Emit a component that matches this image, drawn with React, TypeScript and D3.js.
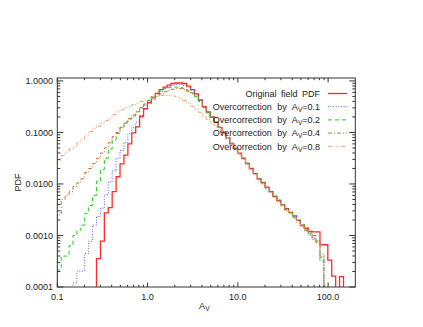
import React from "react";
import * as d3 from "d3";

// Histogram bins: natural-log bins of width 0.1 starting at A_V = 0.1
const BIN_START = 0.1;
const BIN_DLN = 0.1;

// log10(PDF) per bin (null = empty bin)
const LOG_PDF_ORIGINAL: (number | null)[] = [
  null, null, null, null, null, null, null, null, null, null,
  -3.45, -3.11, -2.56, -2.46, -2.15, -1.86, -1.61, -1.44, -1.22, -1.01,
  -0.89, -0.69, -0.54, -0.42, -0.32, -0.24, -0.17, -0.12, -0.08, -0.05,
  -0.04, -0.04, -0.05, -0.1, -0.17, -0.25, -0.37, -0.5, -0.6, -0.7,
  -0.8, -0.9, -1.0, -1.1, -1.22, -1.31, -1.4, -1.5, -1.6, -1.7,
  -1.8, -1.9, -1.97, -2.06, -2.15, -2.24, -2.32, -2.4, -2.48, -2.55,
  -2.62, -2.7, -2.8, -2.86, -2.92, -2.93, -2.93, -3.18, -3.18, -3.48,
  -3.79, null, -3.8, null, null, null,
];
const LOG_PDF_OC01: (number | null)[] = [
  null, null, null, null, -3.92, -3.69, -3.69, -3.35, -3.11, -2.8,
  -2.63, -2.47, -2.21, -1.96, -1.75, -1.5, -1.35, -1.2, -1.02, -0.9,
  -0.8, -0.67, -0.55, -0.44, -0.35, -0.26, -0.2, -0.14, -0.1, -0.08,
  -0.07, -0.07, -0.09, -0.12, -0.18, -0.27, -0.38, -0.5, -0.61, -0.71,
  -0.8, -0.91, -1.0, -1.12, -1.2, -1.32, -1.41, -1.5, -1.62, -1.7,
  -1.8, -1.9, -1.99, -2.07, -2.14, -2.25, -2.31, -2.42, -2.47, -2.57,
  -2.63, -2.7, -2.82, -2.88, -2.97, -3.05, -3.1, -3.42, null, null,
  null, null, null, null, null, null,
];
const LOG_PDF_OC02: (number | null)[] = [
  -3.67, -3.4, -3.4, -3.2, -3.0, -2.9, -2.8, -2.57, -2.42, -2.22,
  -1.95, -1.72, -1.5, -1.32, -1.15, -1.02, -0.9, -0.8, -0.74, -0.68,
  -0.6, -0.52, -0.45, -0.38, -0.3, -0.24, -0.19, -0.15, -0.13, -0.12,
  -0.12, -0.13, -0.15, -0.18, -0.23, -0.3, -0.4, -0.52, -0.62, -0.72,
  -0.81, -0.9, -1.01, -1.1, -1.21, -1.3, -1.42, -1.51, -1.6, -1.72,
  -1.8, -1.91, -1.98, -2.08, -2.15, -2.23, -2.33, -2.4, -2.5, -2.55,
  -2.64, -2.72, -2.78, -2.9, -2.95, -3.0, -3.15, -3.5, null, null,
  null, null, null, null, null, null,
];
const LOG_PDF_OC04: (number | null)[] = [
  -2.6, -2.3, -2.22, -2.15, -2.05, -1.98, -1.9, -1.78, -1.7, -1.6,
  -1.5, -1.4, -1.3, -1.2, -1.08, -1.0, -0.9, -0.82, -0.73, -0.66,
  -0.6, -0.53, -0.47, -0.41, -0.35, -0.3, -0.25, -0.21, -0.18, -0.16,
  -0.15, -0.15, -0.17, -0.2, -0.25, -0.31, -0.4, -0.5, -0.6, -0.7,
  -0.8, -0.9, -1.01, -1.12, -1.22, -1.32, -1.42, -1.52, -1.61, -1.71,
  -1.81, -1.9, -1.99, -2.08, -2.16, -2.24, -2.34, -2.41, -2.5, -2.56,
  -2.65, -2.72, -2.81, -2.9, -2.97, -3.05, -3.12, -3.4, null, null,
  null, null, null, null, null, null,
];
const LOG_PDF_OC08: (number | null)[] = [
  -1.55, -1.45, -1.38, -1.32, -1.28, -1.2, -1.13, -1.05, -0.98, -0.92,
  -0.88, -0.83, -0.77, -0.72, -0.65, -0.6, -0.56, -0.52, -0.49, -0.46,
  -0.43, -0.4, -0.38, -0.36, -0.33, -0.3, -0.28, -0.28, -0.28, -0.29,
  -0.31, -0.34, -0.38, -0.43, -0.49, -0.55, -0.61, -0.68, -0.75, -0.82,
  -0.88, -0.95, -1.02, -1.1, -1.2, -1.3, -1.42, -1.52, -1.63, -1.72,
  -1.82, -1.92, -2.0, -2.1, -2.17, -2.26, -2.35, -2.43, -2.52, -2.58,
  -2.66, -2.75, -2.83, -2.92, -3.0, -3.08, -3.15, -3.35, null, null,
  null, null, null, null, null, null,
];

const SERIES_LABELS = ["Original field PDF", "0.1", "0.2", "0.4", "0.8"];
const X_TICKS = [0.1, 1, 10, 100];
const X_TICK_LABELS = ["0.1", "1.0", "10.0", "100.0"];
const Y_TICKS = [1e-4, 1e-3, 1e-2, 1e-1, 1];
const Y_TICK_LABELS = ["0.0001", "0.0010", "0.0100", "0.1000", "1.0000"];

const W = 423;
const H = 327;
const L = 57.3;
const R = 355.3;
const T = 78;
const B = 287;

const FONT = "'Liberation Sans', Arial, sans-serif";
const TEXT = "#222";
const AXIS = "#333";

const styles = [
  { color: "#ff2a2a", dash: "none", width: 1.3 },
  { color: "#5a5aee", dash: "1,1.6", width: 1 },
  { color: "#22cc22", dash: "4,3", width: 1 },
  { color: "#c87030", dash: "4,2,1,2", width: 1 },
  { color: "#eea070", dash: "4,1.6,1,1.6,1,1.6,1,1.6", width: 1 },
];

export default function App() {
  const x = d3.scaleLog().domain([0.1, 200]).range([L, R]);
  const y = d3.scaleLog().domain([1e-4, 1.14]).range([B, T]);
  const series = [LOG_PDF_ORIGINAL, LOG_PDF_OC01, LOG_PDF_OC02, LOG_PDF_OC04, LOG_PDF_OC08];

  const edge = (k: number) => BIN_START * Math.exp(BIN_DLN * k);
  const OFF = B + 40;

  const makePath = (vals: (number | null)[]) => {
    const p = d3.path();
    p.moveTo(x(edge(0)), OFF);
    vals.forEach((v, k) => {
      const yy = v === null ? OFF : y(Math.pow(10, v));
      p.lineTo(x(edge(k)), yy);
      p.lineTo(x(edge(k + 1)), yy);
    });
    p.lineTo(x(edge(vals.length)), OFF);
    return p.toString();
  };

  // ticks
  const xMinor: number[] = [];
  for (let e = -1; e <= 2; e++) {
    for (let m = 2; m <= 9; m++) {
      const v = m * Math.pow(10, e);
      if (v < 200) xMinor.push(v);
    }
  }
  const yMinor: number[] = [];
  for (let e = -4; e <= 0; e++) {
    for (let m = 2; m <= 9; m++) {
      const v = m * Math.pow(10, e);
      if (v < 1.14) yMinor.push(v);
    }
  }

  const legendY0 = 93.5;
  const legendDy = 13.2;

  return (
    <svg
      width={W}
      height={H}
      style={{ position: "absolute", left: 0, top: 0, background: "#fff" }}
      fontFamily={FONT}
    >
      <defs>
        <clipPath id="plotclip">
          <rect x={L} y={T} width={R - L} height={B - T} />
        </clipPath>
      </defs>

      <g clipPath="url(#plotclip)">
        {series.map((s, i) => (
          <path
            key={i}
            d={makePath(s)}
            fill="none"
            stroke={styles[i].color}
            strokeWidth={styles[i].width}
            strokeDasharray={styles[i].dash}
          />
        ))}
      </g>

      {/* frame */}
      <rect x={L} y={T} width={R - L} height={B - T} fill="none" stroke={AXIS} strokeWidth={1} />

      {/* x ticks */}
      {X_TICKS.map((t) => (
        <g key={"xt" + t}>
          <line x1={x(t)} x2={x(t)} y1={B} y2={B - 4.5} stroke={AXIS} />
          <line x1={x(t)} x2={x(t)} y1={T} y2={T + 4.5} stroke={AXIS} />
        </g>
      ))}
      {xMinor.map((t) => (
        <g key={"xm" + t}>
          <line x1={x(t)} x2={x(t)} y1={B} y2={B - 2.2} stroke={AXIS} />
          <line x1={x(t)} x2={x(t)} y1={T} y2={T + 2.2} stroke={AXIS} />
        </g>
      ))}
      {X_TICKS.map((t, i) => (
        <text key={"xl" + t} x={x(t)} y={300} fontSize={9} fill={TEXT} textAnchor="middle">
          {X_TICK_LABELS[i]}
        </text>
      ))}

      {/* y ticks */}
      {Y_TICKS.map((t) => (
        <g key={"yt" + t}>
          <line x1={L} x2={L + 6} y1={y(t)} y2={y(t)} stroke={AXIS} />
          <line x1={R} x2={R - 6} y1={y(t)} y2={y(t)} stroke={AXIS} />
        </g>
      ))}
      {yMinor.map((t) => (
        <g key={"ym" + t}>
          <line x1={L} x2={L + 3} y1={y(t)} y2={y(t)} stroke={AXIS} />
          <line x1={R} x2={R - 3} y1={y(t)} y2={y(t)} stroke={AXIS} />
        </g>
      ))}
      {Y_TICKS.map((t, i) => (
        <text key={"yl" + t} x={53} y={y(t) + 3.2} fontSize={9} fill={TEXT} textAnchor="end">
          {Y_TICK_LABELS[i]}
        </text>
      ))}

      {/* axis titles */}
      <text x={(L + R) / 2 - 2} y={309} fontSize={9} fill={TEXT} textAnchor="middle">
        A<tspan fontSize={6.5} dy={2}>V</tspan>
      </text>
      <text
        transform={`translate(21, ${(T + B) / 2}) rotate(-90)`}
        fontSize={9}
        fill={TEXT}
        textAnchor="middle"
      >
        PDF
      </text>

      {/* legend */}
      {SERIES_LABELS.map((lab, i) => {
        const cy = legendY0 + i * legendDy;
        return (
          <g key={"lg" + i}>
            {i === 0 ? (
              <text x={320} y={cy + 3.2} fontSize={9} fill={TEXT} textAnchor="end" style={{ wordSpacing: "2px" }}>
                {lab}
              </text>
            ) : (
              <text x={320} y={cy + 3.2} fontSize={9} fill={TEXT} textAnchor="end" style={{ wordSpacing: "3px" }}>
                Overcorrection by A<tspan fontSize={6.5} dy={2}>V</tspan>
                <tspan dy={-2}>={lab}</tspan>
              </text>
            )}
            <line
              x1={328}
              x2={347}
              y1={cy}
              y2={cy}
              stroke={styles[i].color}
              strokeWidth={styles[i].width}
              strokeDasharray={styles[i].dash}
            />
          </g>
        );
      })}
    </svg>
  );
}
